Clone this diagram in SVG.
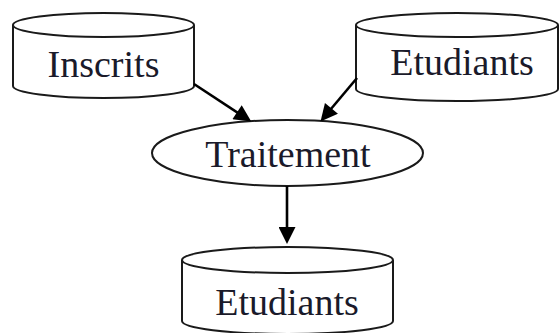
<svg xmlns="http://www.w3.org/2000/svg" width="559" height="333" viewBox="0 0 559 333">
<style>
.shape{fill:#ffffff;stroke:#1a1a1a;stroke-width:2}
.lbl{font-family:"Liberation Serif","Times New Roman",serif;font-size:38px;fill:#1a1a2a;text-anchor:middle}
.edge{stroke:#000;stroke-width:2.6;fill:none}
</style>
<defs>
<marker id="arr" viewBox="0 0 10 10" refX="7" refY="5" markerWidth="20" markerHeight="17" markerUnits="userSpaceOnUse" orient="auto">
<path d="M0,0 L10,5 L0,10 z" fill="#000"/>
</marker>
</defs>
<rect width="559" height="333" fill="#ffffff"/>
<g id="inscrits">
<path class="shape" d="M13,25 L13,86 A90.5,12 0 0 0 194,86 L194,25"/>
<ellipse class="shape" cx="103.5" cy="25" rx="90.5" ry="12"/>
<text class="lbl" x="103.5" y="77">Inscrits</text>
</g>
<g id="etudiants-src">
<path class="shape" d="M356,25 L356,89 A101,12 0 0 0 558,89 L558,25"/>
<ellipse class="shape" cx="457" cy="25" rx="101" ry="12"/>
<text class="lbl" x="462" y="75">Etudiants</text>
</g>
<g id="traitement">
<ellipse class="shape" cx="287.5" cy="153" rx="135.5" ry="33"/>
<text class="lbl" x="288" y="167">Traitement</text>
</g>
<g id="etudiants-dst">
<path class="shape" d="M182,260 L182,321 A105.5,13 0 0 0 393,321 L393,260"/>
<ellipse class="shape" cx="287.5" cy="260" rx="105.5" ry="13"/>
<text class="lbl" x="287" y="315">Etudiants</text>
</g>
<g id="connectors">
<line class="edge" x1="194" y1="84" x2="247" y2="118.8" marker-end="url(#arr)"/>
<line class="edge" x1="357" y1="78" x2="323.8" y2="117.5" marker-end="url(#arr)"/>
<line class="edge" x1="287" y1="186" x2="287" y2="239" marker-end="url(#arr)"/>
</g>
</svg>
